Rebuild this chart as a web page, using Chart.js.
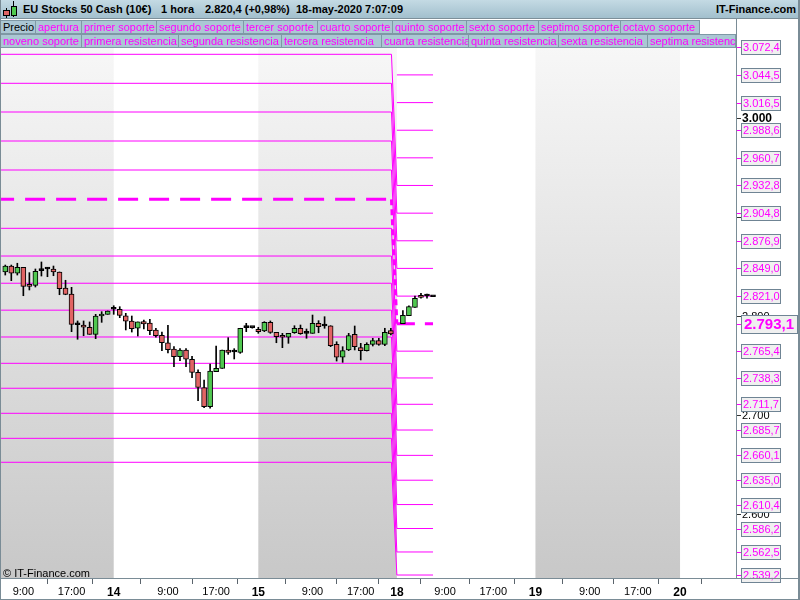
<!DOCTYPE html>
<html><head><meta charset="utf-8">
<script src="https://cdn.jsdelivr.net/npm/chart.js@4.4.1/dist/chart.umd.min.js"></script>
<style>
html,body{margin:0;padding:0;background:#fff;}
#wrap{position:relative;width:800px;height:600px;overflow:hidden;font-family:"Liberation Sans",Arial,sans-serif;}
#c{position:absolute;left:0;top:0;}
#title{position:absolute;left:0;top:0;width:800px;height:19px;background:linear-gradient(#c4dae4,#a2bfcd);border-bottom:1px solid #7d8f99;box-sizing:border-box;}
.t{position:absolute;top:3px;font-size:11px;font-weight:bold;color:#000;white-space:nowrap;}
.lg{position:absolute;height:14px;box-sizing:border-box;background:#abc7d4;border:1px solid #7f98a5;color:#ff00ff;font-size:11px;line-height:12px;padding-left:2px;white-space:nowrap;overflow:hidden;}
#frame{position:absolute;left:0;top:0;width:800px;height:600px;box-sizing:border-box;border-left:1px solid #7a8c96;border-right:2px solid #7a8c96;border-bottom:1px solid #7a8c96;pointer-events:none;}
#copy{position:absolute;left:3px;top:567px;font-size:11px;color:#000;}
.vl{position:absolute;background:#7a8c96;}
</style></head>
<body>
<div id="wrap">
<canvas id="c" width="800" height="600"></canvas>
<div id="title">
  <div style="position:absolute;left:6px;top:8px;width:1px;height:10px;background:#000"></div>
  <div style="position:absolute;left:3px;top:10px;width:7px;height:6px;background:#e06464;border:1px solid #000;box-sizing:border-box"></div>
  <div style="position:absolute;left:13px;top:1px;width:1px;height:16px;background:#000"></div>
  <div style="position:absolute;left:11px;top:6px;width:6px;height:10px;background:#4fc84f;border:1px solid #000;box-sizing:border-box"></div>
  <div class="t" style="left:23px">EU Stocks 50 Cash (10€)</div>
  <div class="t" style="left:161px">1 hora</div>
  <div class="t" style="left:205px">2.820,4 (+0,98%)</div>
  <div class="t" style="left:296px">18-may-2020 7:07:09</div>
  <div class="t" style="right:4px">IT-Finance.com</div>
</div>
<div id="legend"></div>
<div class="vl" style="left:736px;top:19px;width:1px;height:560px"></div>
<div class="vl" style="left:0px;top:578px;width:800px;height:1px"></div>
<div id="copy">© IT-Finance.com</div>
<div id="frame"></div>
</div>
<script>
// ---------- data ----------
const candleIdx = [-18,-17,-16,-15,-14,-13,-12,-11,-10,-9,-8,-7,-6,-5,-4,-3,-2,-1,0,1,2,3,4,5,6,7,8,9,10,11,12,13,14,15,16,17,18,19,20,21,22,23,24,25,26,27,28,29,30,31,32,33,34,35,36,37,38,39,40,41,42,43,44,45,46,48,49,50,51,52,53];
const openV  = [2845.4,2851.4,2844.1,2850.1,2832.5,2831.9,2846.7,2848.4,2848.4,2845.4,2829.2,2823.1,2792.1,2791.8,2789.5,2782.4,2800.9,2802.6,2807.7,2807.7,2801.2,2795.9,2788.5,2795.2,2793.8,2786.8,2781.4,2773.9,2767.6,2759.8,2766.6,2757.2,2744.0,2728.5,2709.3,2744.6,2747.9,2766.6,2764.5,2764.2,2789.1,2789.1,2787.5,2785.8,2794.5,2784.4,2781.0,2779.4,2784.0,2788.5,2783.4,2783.4,2793.5,2790.8,2791.1,2772.3,2759.2,2766.6,2782.4,2768.9,2765.9,2772.3,2776.0,2772.3,2786.1,2793.1,2801.2,2809.7,2821.8,2821.1,2820.4];
const highV  = [2852.4,2852.4,2854.2,2850.1,2844.7,2848.4,2855.5,2850.1,2851.4,2845.4,2837.0,2829.9,2795.9,2795.9,2794.9,2802.6,2805.3,2806.0,2811.3,2810.3,2803.6,2800.9,2794.9,2796.9,2797.6,2788.5,2784.7,2791.5,2769.9,2767.9,2767.9,2760.2,2746.4,2736.2,2752.4,2770.6,2766.6,2779.0,2767.9,2788.5,2793.5,2789.6,2789.5,2795.2,2795.9,2784.4,2783.4,2783.4,2791.1,2791.8,2787.8,2801.9,2796.2,2800.2,2791.1,2774.9,2769.9,2783.4,2790.8,2773.3,2773.9,2778.4,2778.4,2788.5,2788.5,2806.3,2811.3,2821.1,2823.8,2823.1,2820.4];
const lowV   = [2842.3,2836.6,2842.3,2821.4,2827.2,2830.2,2841.3,2840.6,2841.6,2822.4,2822.4,2785.1,2777.4,2781.0,2782.4,2778.0,2794.5,2802.6,2802.6,2799.2,2786.8,2784.7,2780.7,2787.8,2782.0,2779.4,2765.9,2763.5,2749.7,2755.8,2749.7,2738.6,2715.3,2708.3,2707.7,2744.6,2747.9,2762.2,2757.5,2763.2,2785.1,2788.6,2783.4,2785.1,2783.4,2773.9,2768.9,2773.3,2783.4,2782.4,2778.4,2783.4,2784.0,2788.5,2769.9,2755.4,2754.1,2765.9,2766.6,2756.5,2765.5,2770.6,2771.3,2770.9,2781.7,2793.1,2801.2,2809.7,2818.8,2818.8,2820.4];
const closeV = [2851.4,2844.1,2850.1,2830.9,2830.9,2846.1,2846.7,2848.4,2845.4,2828.5,2822.8,2792.5,2792.1,2789.5,2782.4,2800.9,2802.9,2806.0,2807.7,2801.6,2795.6,2788.1,2794.9,2792.8,2786.1,2781.0,2773.9,2766.9,2759.8,2766.6,2757.2,2743.8,2728.7,2709.3,2745.3,2748.1,2766.6,2764.2,2764.5,2788.5,2789.1,2789.1,2785.1,2794.5,2784.4,2780.0,2779.4,2783.4,2788.5,2783.0,2783.4,2793.5,2790.1,2790.8,2770.9,2759.2,2765.9,2781.0,2769.9,2765.9,2772.3,2776.0,2772.3,2784.4,2782.7,2801.6,2810.3,2818.8,2819.8,2821.1,2820.4];

// pivot levels: previous session (15-may) and current session (18-may)
const prevOpen = 2918.8;
const prevResistances = [2948.4, 2977.7, 3007.0, 3036.0, 3065.3, null, null, null, null, null];
const prevSupports    = [2889.5, 2861.5, 2834.0, 2806.8, 2779.7, 2753.1, 2727.9, 2702.6, 2677.3, 2653.1];
const curOpen = 2793.1;
const curResistances  = [2821.0, 2849.0, 2876.9, 2904.8, 2932.8, 2960.7, 2988.6, 3016.5, 3044.5, 3072.4];
const curSupports     = [2765.4, 2738.3, 2711.7, 2685.7, 2660.1, 2635.0, 2610.4, 2586.2, 2562.5, 2539.2];

// time axis (hour-bar index; 0 = 14-may 00:00)
const timeTickIdx    = [-15, -7, 0, 9, 17, 24, 33, 41, 47, 55, 63, 70, 79, 87, 94];
const timeTickLabels = ['9:00','17:00','14','9:00','17:00','15','9:00','17:00','18','9:00','17:00','19','9:00','17:00','20'];
const dayStartIdx    = [0, 24, 47, 70, 94];
const priceTicks     = [2600, 2700, 2800, 2900, 3000];

const legendRow1 = ['Precio','apertura','primer soporte','segundo soporte','tercer soporte','cuarto soporte','quinto soporte','sexto soporte','septimo soporte','octavo soporte'];
const legendRow2 = ['noveno soporte','primera resistencia','segunda resistencia','tercera resistencia','cuarta resistencia','quinta resistencia','sexta resistencia','septima resistencia'];

// ---------- layout ----------
const row1Pos = [[0,36],[35,47],[81,76],[156,88],[243,75],[317,76],[392,75],[466,73],[538,83],[620,80]];
const row2Pos = [[0,82],[81,98],[178,104],[281,101],[381,88],[468,91],[558,90],[647,89]];
const lg = document.getElementById('legend');
function addRow(names, pos, top){
  names.forEach((n,k)=>{
    const d=document.createElement('div'); d.className='lg'; d.textContent=n;
    d.style.left=pos[k][0]+'px'; d.style.width=pos[k][1]+'px'; d.style.top=top+'px';
    if(n==='Precio') d.style.color='#000';
    lg.appendChild(d);
  });
}
addRow(legendRow1,row1Pos,20);
addRow(legendRow2,row2Pos,34);

function fmt(v, dec){
  const s=v.toFixed(dec); const [ip,dp]=s.split('.');
  const ii=ip.replace(/\B(?=(\d{3})+(?!\d))/g,'.');
  return dp!==undefined? ii+','+dp : ii;
}

const MAG='#ff00ff';
const sessionBreak = dayStartIdx[2];           // 18-may
const lastBar = candleIdx[candleIdx.length-1];

function levelData(oldV,newV){
  const pts=[];
  if(oldV!==null){ pts.push({x:-25,y:oldV}); pts.push({x:sessionBreak-0.9,y:oldV}); }
  pts.push({x:sessionBreak,y:newV}); pts.push({x:lastBar,y:newV});
  return pts;
}
const lineSets=[];
curResistances.forEach((v,k)=>lineSets.push({type:'line',data:levelData(prevResistances[k],v),borderColor:MAG,borderWidth:1,pointRadius:0,order:5}));
curSupports.forEach((v,k)=>lineSets.push({type:'line',data:levelData(prevSupports[k],v),borderColor:MAG,borderWidth:1,pointRadius:0,order:5}));
lineSets.push({type:'line',data:levelData(prevOpen,curOpen),borderColor:MAG,borderWidth:3,pointRadius:0,order:4,
  segment:{borderDash:(ctx)=>ctx.p0DataIndex===0?[20,11]:(ctx.p0DataIndex===1?[6,4]:[18,10])}});

const bodyColors = candleIdx.map((_,k)=> closeV[k]>openV[k]?'#50c850':(closeV[k]<openV[k]?'#e26464':'#000'));

const bandPlugin={
  id:'bands',
  beforeDatasetsDraw(chart){
    const {ctx,chartArea:a,scales:{x}}=chart;
    const g=ctx.createLinearGradient(0,a.top,0,a.bottom);
    g.addColorStop(0,'#f8f8f8'); g.addColorStop(1,'#c8c8c8');
    const b=[x.min,...dayStartIdx,x.max];
    ctx.save(); ctx.fillStyle=g;
    for(let k=0;k<b.length-1;k+=2){
      const x0=Math.max(a.left,x.getPixelForValue(b[k]));
      const x1=Math.min(a.right,x.getPixelForValue(b[k+1]));
      if(x1>x0) ctx.fillRect(x0,a.top,x1-x0,a.bottom-a.top);
    }
    ctx.restore();
  }
};
const labelPlugin={
  id:'levelLabels',
  afterDraw(chart){
    const {ctx,scales:{y}}=chart;
    ctx.save();
    function box(v,big){
      const py=Math.round(y.getPixelForValue(v));
      ctx.strokeStyle=MAG; ctx.lineWidth=1;
      ctx.beginPath(); ctx.moveTo(736,py+0.5); ctx.lineTo(742,py+0.5); ctx.stroke();
      const h=big?19:15, w=big?57:40;
      ctx.fillStyle='#f0f0f0'; ctx.fillRect(741,py-Math.floor(h/2),w,h);
      ctx.strokeStyle='#6f8494'; ctx.strokeRect(741.5,py-Math.floor(h/2)+0.5,w-1,h-1);
      ctx.fillStyle=MAG; ctx.textBaseline='middle'; ctx.textAlign='left';
      ctx.font=big?'bold 15px "Liberation Sans", Arial':'11px "Liberation Sans", Arial';
      ctx.fillText(fmt(v,1),big?744:743,py+1);
    }
    [...curResistances,...curSupports].forEach(v=>box(v,false));
    box(curOpen,true);
    ctx.restore();
  }
};

new Chart(document.getElementById('c'),{
  type:'bar',
  data:{datasets:[
    {type:'bar',data:candleIdx.map((x,k)=>({x,y:[lowV[k],highV[k]]})),backgroundColor:'#000',barThickness:1,minBarLength:1,grouped:false,order:2},
    {type:'bar',data:candleIdx.map((x,k)=>({x,y:[openV[k],closeV[k]]})),backgroundColor:bodyColors,borderColor:'#000',borderWidth:1,borderSkipped:false,barThickness:5,minBarLength:2,grouped:false,order:1},
    ...lineSets
  ]},
  options:{
    responsive:false,animation:false,devicePixelRatio:1,events:[],
    layout:{padding:{top:36,left:1,right:0,bottom:0}},
    plugins:{legend:{display:false},tooltip:{enabled:false}},
    scales:{
      x:{type:'linear',offset:false,min:-18.71,max:103.29,
        afterBuildTicks:s=>{s.ticks=timeTickIdx.map(v=>({value:v}));},
        afterFit:s=>{s.height=22;},
        ticks:{autoSkip:false,maxRotation:0,color:'#000',padding:1,
          callback:(v)=>timeTickLabels[timeTickIdx.indexOf(v)],
          font:(ctx)=>(ctx.tick&&dayStartIdx.includes(ctx.tick.value))?{family:'"Liberation Sans", Arial',size:12,weight:'bold'}:{family:'"Liberation Sans", Arial',size:11}},
        grid:{drawOnChartArea:false,color:'#5a646c',tickLength:6},
        border:{color:'#7a8c96',width:1}},
      y:{type:'linear',position:'right',min:2536.2,max:3083.8,
        afterBuildTicks:s=>{s.ticks=priceTicks.map(v=>({value:v}));},
        afterFit:s=>{s.width=64;},
        ticks:{color:'#000',padding:1,callback:(v)=>fmt(v,0),
          font:(ctx)=>(ctx.tick&&ctx.tick.value===3000)?{family:'"Liberation Sans", Arial',size:12,weight:'bold'}:{family:'"Liberation Sans", Arial',size:11}},
        grid:{drawOnChartArea:false,color:'#333',tickLength:5},
        border:{color:'#7a8c96',width:1}}
    }
  },
  plugins:[bandPlugin,labelPlugin]
});
</script>
</body></html>
